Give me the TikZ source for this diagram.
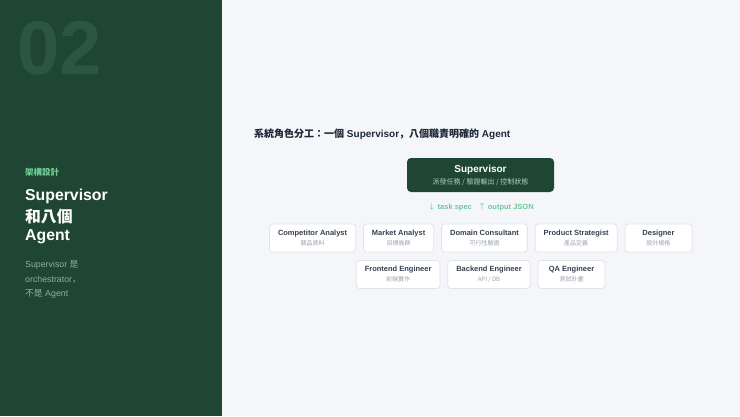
\documentclass[tikz,border=0pt]{standalone}
\usepackage{fontspec}
\setmainfont{Liberation Sans}
\newfontfamily\cjk{Noto Sans CJK JP}
\usetikzlibrary{positioning}
\definecolor{panel}{HTML}{1E4632}
\definecolor{bignum}{HTML}{2B5740}
\definecolor{mint}{HTML}{6FCF97}
\definecolor{leftsub}{HTML}{93AE9F}
\definecolor{page}{HTML}{F5F6FA}
\definecolor{titletext}{HTML}{1F2937}
\definecolor{boxline}{HTML}{E2E4E9}
\definecolor{boxtext}{HTML}{374151}
\definecolor{subgray}{HTML}{9CA3AF}
\definecolor{supsub}{HTML}{B5CDBF}
\definecolor{flow}{HTML}{6CC99A}
\tikzstyle{agent} = [rectangle, rounded corners=3pt, draw=boxline, line width=0.8pt, fill=white, minimum height=28pt, minimum width=67pt, inner xsep=8.5pt, align=center, text=boxtext, font=\fontsize{7.5}{9}\selectfont\bfseries]
\tikzstyle{sup} = [rectangle, rounded corners=4pt, fill=panel, minimum width=147pt, minimum height=34pt, align=center, text=white, font=\fontsize{10}{11}\selectfont\bfseries]
\tikzstyle{flowlabel} = [text=flow, font=\fontsize{7.5}{9}\selectfont\bfseries]
\newcommand{\sub}[1]{\\[1pt]{\cjk\mdseries\fontsize{6}{7}\selectfont\color{subgray}#1}}

\begin{document}
\begin{tikzpicture}[x={(1pt,0)}, y={(0,-1pt)}, node distance=7pt]
	\useasboundingbox (0,0) rectangle (740,416);
	\fill[page] (0,0) rectangle (740,416);
	\fill[panel] (0,0) rectangle (222,416);

	% left panel
	\node (num) [anchor=west, inner sep=0, text=bignum, font=\fontsize{76}{76}\selectfont\bfseries] at (17,48) {02};
	\node (tag) [anchor=west, inner sep=0, text=mint, font=\fontsize{8.5}{10}\selectfont\bfseries] at (25,172) {\cjk 架構設計};
	\node (h1) [anchor=west, inner sep=0, text=white, font=\fontsize{15.8}{20}\selectfont\bfseries] at (25,196) {Supervisor};
	\node (h2) [anchor=west, inner sep=0, text=white, font=\fontsize{15.8}{20}\selectfont\bfseries] at (25,217) {\cjk 和八個};
	\node (h3) [anchor=west, inner sep=0, text=white, font=\fontsize{15.8}{20}\selectfont\bfseries] at (25,237) {Agent};
	\node (d1) [anchor=west, inner sep=0, text=leftsub, font=\fontsize{8.8}{11}\selectfont] at (25,265) {Supervisor {\cjk 是}};
	\node (d2) [anchor=west, inner sep=0, text=leftsub, font=\fontsize{8.8}{11}\selectfont] at (25,280) {orchestrator{\cjk ，}};
	\node (d3) [anchor=west, inner sep=0, text=leftsub, font=\fontsize{8.8}{11}\selectfont] at (25,294) {{\cjk 不是} Agent};

	% right side
	\node (title) [anchor=west, inner sep=0, text=titletext, font=\fontsize{10}{12}\selectfont\bfseries] at (254,134) {{\cjk 系統角色分工：一個} Supervisor{\cjk ，八個職責明確的} Agent};
	\node (sv) [sup] at (480.5,175) {Supervisor\\[1pt]{\cjk\mdseries\fontsize{7}{8}\selectfont\color{supsub}派發任務 / 驗證輸出 / 控制狀態}};
	\node (down) [flowlabel] at (450,207) {{\cjk\mdseries ↓} task spec};
	\node (up) [flowlabel] at (506,207) {{\cjk\mdseries ↑} output JSON};

	% first row
	\node (n3) [agent] at (484.5,238) {Domain Consultant\sub{可行性驗證}};
	\node (n2) [agent, left=of n3] {Market Analyst\sub{目標族群}};
	\node (n1) [agent, left=of n2] {Competitor Analyst\sub{競品資料}};
	\node (n4) [agent, right=of n3] {Product Strategist\sub{產品定義}};
	\node (n5) [agent, right=of n4] {Designer\sub{設計規格}};

	% second row
	\node (n7) [agent] at (489,274.5) {Backend Engineer\sub{API / DB}};
	\node (n6) [agent, left=of n7] {Frontend Engineer\sub{前端實作}};
	\node (n8) [agent, right=of n7] {QA Engineer\sub{測試計畫}};
\end{tikzpicture}
\end{document}
